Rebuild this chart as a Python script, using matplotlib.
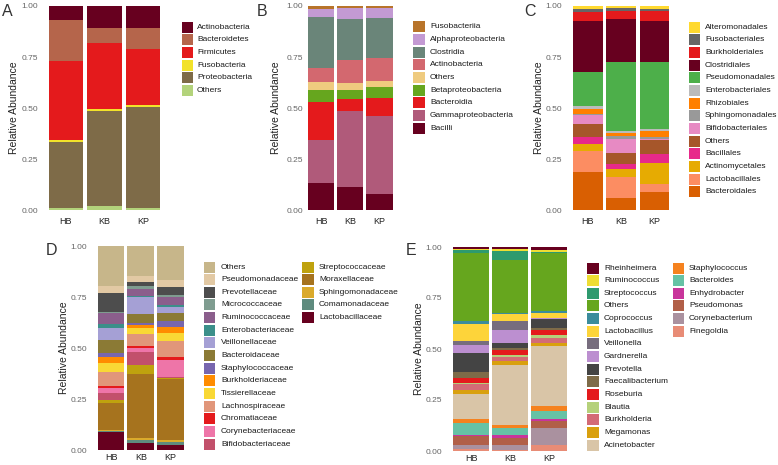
import numpy as np
import matplotlib
matplotlib.use("Agg")
import matplotlib.pyplot as plt
from matplotlib.patches import Rectangle

plt.rcParams['font.family'] = ['Liberation Sans', 'DejaVu Sans']

W, H = 778, 465
samples = ['HB', 'KB', 'KP']

# ---- data (legend order = stack order, top to bottom) ----
a_names = ['Actinobacteria', 'Bacteroidetes', 'Firmicutes', 'Fusobacteria',
           'Proteobacteria', 'Others']
a_cols = ['#67001F', '#B5654B', '#E41A1C', '#F2E22A', '#7E6B48', '#B3D37B']
a_hb = [0.07, 0.20, 0.385, 0.01, 0.325, 0.01]
a_kb = [0.11, 0.07, 0.325, 0.01, 0.465, 0.02]
a_kp = [0.11, 0.10, 0.277, 0.006, 0.495, 0.012]

b_names = ['Fusobacteriia', 'Alphaproteobacteria', 'Clostridia', 'Actinobacteria',
           'Others', 'Betaproteobacteria', 'Bacteroidia', 'Gammaproteobacteria',
           'Bacilli']
b_cols = ['#B8742A', '#C39AD3', '#6A8579', '#D3686F', '#EFCB7F', '#66A61E',
          '#E41A1C', '#B05A7A', '#67001F']
b_hb = [0.015, 0.041, 0.246, 0.072, 0.038, 0.059, 0.186, 0.209, 0.134]
b_kb = [0.011, 0.051, 0.204, 0.113, 0.031, 0.044, 0.062, 0.370, 0.114]
b_kp = [0.010, 0.049, 0.194, 0.113, 0.029, 0.056, 0.088, 0.384, 0.077]

c_names = ['Alteromonadales', 'Fusobacteriales', 'Burkholderiales', 'Clostridiales',
           'Pseudomonadales', 'Enterobacteriales', 'Rhizobiales', 'Sphingomonadales',
           'Bifidobacteriales', 'Others', 'Bacillales', 'Actinomycetales',
           'Lactobacillales', 'Bacteroidales']
c_cols = ['#FFD92F', '#666666', '#E41A1C', '#67001F', '#4DAF4A', '#BBBBBB',
          '#FF7F00', '#999999', '#E78AC3', '#A6562A', '#E7298A', '#E6AB02',
          '#FC8D62', '#D95F02']
c_hb = [0.015, 0.015, 0.045, 0.247, 0.168, 0.017, 0.02, 0.008, 0.042, 0.067,
        0.033, 0.033, 0.105, 0.185]
c_kb = [0.01, 0.013, 0.042, 0.208, 0.34, 0.008, 0.016, 0.013, 0.069, 0.056,
        0.025, 0.04, 0.10, 0.06]
c_kp = [0.017, 0.006, 0.049, 0.201, 0.33, 0.011, 0.026, 0.012, 0.005, 0.068,
        0.043, 0.106, 0.039, 0.087]

d_names = ['Others', 'Pseudomonadaceae', 'Prevotellaceae', 'Micrococcaceae',
           'Ruminococcaceae', 'Enterobacteriaceae', 'Veillonellaceae',
           'Bacteroidaceae', 'Staphylococcaceae', 'Burkholderiaceae',
           'Tissierellaceae', 'Lachnospiraceae', 'Chromatiaceae',
           'Corynebacteriaceae', 'Bifidobacteriaceae', 'Streptococcaceae',
           'Moraxellaceae', 'Sphingomonadaceae', 'Comamonadaceae',
           'Lactobacillaceae']
d_cols = ['#C7B68A', '#E2C9A4', '#4D4D4D', '#7F9C90', '#8B5E8C', '#3B8F8A',
          '#A5A0D5', '#8B7A35', '#7766AE', '#FF8C00', '#F9D835', '#E1967A',
          '#E41A1C', '#EE75A8', '#C2506B', '#BFA20E', '#A6731E', '#DAAA2C',
          '#5F8B7E', '#67001F']
d_hb = [0.194, 0.038, 0.093, 0.005, 0.054, 0.016, 0.061, 0.062, 0.019, 0.033,
        0.044, 0.067, 0.012, 0.021, 0.038, 0.011, 0.134, 0.005, 0.006, 0.087]
d_kb = [0.147, 0.028, 0.019, 0.018, 0.031, 0.009, 0.081, 0.044, 0.010, 0.017,
        0.027, 0.059, 0.008, 0.022, 0.063, 0.044, 0.314, 0.010, 0.015, 0.034]
d_kp = [0.167, 0.033, 0.040, 0.008, 0.040, 0.009, 0.030, 0.042, 0.028, 0.031,
        0.038, 0.076, 0.017, 0.083, 0.003, 0.005, 0.303, 0.009, 0.012, 0.026]

e_names = ['Rheinheimera', 'Ruminococcus', 'Streptococcus', 'Others',
           'Coprococcus', 'Lactobacillus', 'Veillonella', 'Gardnerella',
           'Prevotella', 'Faecalibacterium', 'Roseburia', 'Blautia',
           'Burkholderia', 'Megamonas', 'Acinetobacter', 'Staphylococcus',
           'Bacteroides', 'Enhydrobacter', 'Pseudomonas', 'Corynebacterium',
           'Finegoldia']
e_cols = ['#67001F', '#EEDD33', '#2E9A6E', '#66A61E', '#3B8C9C', '#FDD43A',
          '#776D7E', '#BC8FD0', '#444444', '#7E6B48', '#E41A1C', '#B5D17A',
          '#D36B76', '#D9A00E', '#D9C5A7', '#F5821F', '#66C2A5', '#C8359B',
          '#B15F48', '#AA919F', '#E88C76']
e_hb = [0.01, 0.006, 0.012, 0.335, 0.013, 0.085, 0.021, 0.036, 0.095, 0.031,
        0.021, 0.008, 0.030, 0.016, 0.123, 0.019, 0.061, 0.004, 0.045, 0.019,
        0.01]
e_kb = [0.010, 0.010, 0.045, 0.257, 0.008, 0.033, 0.045, 0.061, 0.024, 0.010,
        0.027, 0.009, 0.020, 0.019, 0.296, 0.012, 0.036, 0.016, 0.032, 0.025,
        0.005]
e_kp = [0.015, 0.01, 0.005, 0.285, 0.010, 0.022, 0.003, 0.003, 0.046, 0.009,
        0.023, 0.017, 0.021, 0.016, 0.294, 0.025, 0.041, 0.008, 0.036, 0.082,
        0.029]

fig = plt.figure(figsize=(W / 100, H / 100), dpi=100)
fig.patch.set_facecolor('white')

# overlay in pixel coords for letters, y labels and legends
ov = fig.add_axes([0, 0, 1, 1])
ov.set_xlim(0, W)
ov.set_ylim(H, 0)
ov.axis('off')


def panel(letter, names, cols, data, left, c1, u, ytop, ybot,
          ylab_x, letter_xy, leg_cols, xpad=5):
    xlo = 1 - (c1 - left) / u
    xhi = 3.56
    right = c1 + (xhi - 1) * u
    ax = fig.add_axes([left / W, 1 - ybot / H, (right - left) / W, (ybot - ytop) / H])
    vals = np.array(data, dtype=float)
    vals = vals / vals.sum(axis=1, keepdims=True)   # position = "fill"
    for i in range(3):
        cum = 0.0
        for k in range(len(names) - 1, -1, -1):
            ax.bar(i + 1, vals[i, k], width=0.9, bottom=cum, color=cols[k],
                   linewidth=0)
            cum += vals[i, k]
    ax.set_xlim(xlo, xhi)
    ax.set_ylim(0, 1)
    ax.set_xticks([1, 2, 3])
    ax.set_xticklabels(samples)
    ax.set_yticks([0, 0.25, 0.5, 0.75, 1.0])
    ax.set_yticklabels(['0.00', '0.25', '0.50', '0.75', '1.00'])
    ax.tick_params(axis='both', length=0)
    ax.tick_params(axis='y', labelsize=6, labelcolor='#666666', pad=3)
    ax.tick_params(axis='x', labelsize=6.5, labelcolor='#222222', pad=xpad)
    for s in ax.spines.values():
        s.set_visible(False)
    ov.text(ylab_x, (ytop + ybot) / 2, 'Relative Abundance', rotation=90,
            ha='center', va='center', fontsize=7.5, color='#222222')
    ov.text(letter_xy[0], letter_xy[1], letter, ha='left', va='top',
            fontsize=11.5, color='#333333')
    # legend columns: (swatch_x, text_x, first_row_y, names, colours)
    for sx, tx, y0, nm, cl in leg_cols:
        for j, (n, c) in enumerate(zip(nm, cl)):
            yc = y0 + j * 12.65
            ov.add_patch(Rectangle((sx, yc - 5.5), 11.5, 11, color=c, lw=0))
            ov.text(tx, yc, n, ha='left', va='center', fontsize=6,
                    color='#1a1a1a')
    return ax


panel('A', a_names, a_cols, [a_hb, a_kb, a_kp], 42.5, 66, 38.5, 6, 210,
      14, (1.5, 3.5), [(182, 197, 27.3, a_names, a_cols)])
panel('B', b_names, b_cols, [b_hb, b_kb, b_kp], 307.5, 321, 29.25, 6, 210,
      276, (256.5, 3.5), [(413.5, 430, 27.0, b_names, b_cols)])
panel('C', c_names, c_cols, [c_hb, c_kb, c_kp], 566.5, 588, 33.25, 6, 210,
      539, (524.5, 3.5), [(689, 705, 27.3, c_names, c_cols)])
panel('D', d_names, d_cols, [d_hb, d_kb, d_kp], 91.5, 111, 29.75, 246, 450,
      64, (45.5, 242.5),
      [(204, 221, 267, d_names[:15], d_cols[:15]),
       (302.5, 319, 267, d_names[15:], d_cols[15:])], xpad=2.5)
panel('E', e_names, e_cols, [e_hb, e_kb, e_kp], 446.5, 471, 39, 247, 451,
      419, (405.5, 242.5),
      [(587.5, 604, 268, e_names[:15], e_cols[:15]),
       (673, 689, 268, e_names[15:], e_cols[15:])], xpad=2)

fig.savefig('out.png', dpi=100, facecolor='white')
